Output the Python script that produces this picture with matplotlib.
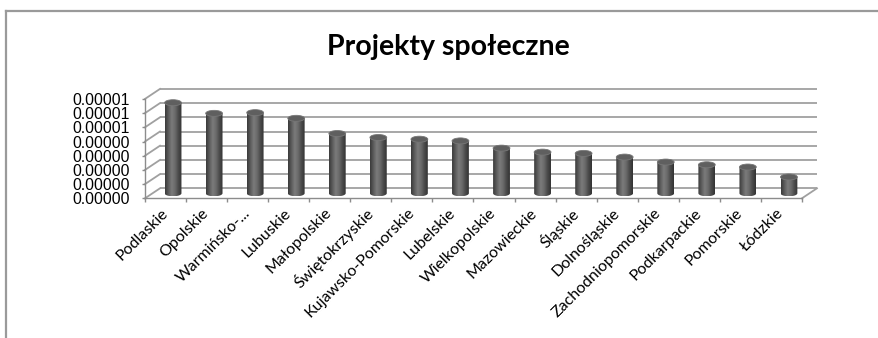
import numpy as np
import matplotlib
matplotlib.use("Agg")
import matplotlib.pyplot as plt
from matplotlib.patches import Ellipse, PathPatch
from matplotlib.path import Path
from matplotlib.colors import LinearSegmentedColormap
from matplotlib.lines import Line2D

# ---- data ----
regions = ["Podlaskie", "Opolskie", "Warmińsko-...", "Lubuskie", "Małopolskie",
           "Świętokrzyskie", "Kujawsko-Pomorskie", "Lubelskie", "Wielkopolskie",
           "Mazowieckie", "Śląskie", "Dolnośląskie", "Zachodniopomorskie",
           "Podkarpackie", "Pomorskie", "Łódzkie"]
values = [6.38e-6, 5.63e-6, 5.68e-6, 5.28e-6, 4.21e-6, 3.93e-6, 3.81e-6, 3.69e-6,
          3.18e-6, 2.90e-6, 2.81e-6, 2.55e-6, 2.20e-6, 2.01e-6, 1.85e-6, 1.15e-6]
ytick_values = [0, 1e-6, 2e-6, 3e-6, 4e-6, 5e-6, 6e-6, 7e-6]
ytick_labels = ["0.00000", "0.00000", "0.00000", "0.00000", "0.00000",
                "0.00001", "0.00001", "0.00001"]
title = "Projekty społeczne"

# ---- layout (pixels) ----
W, H = 879, 338
PX_CAT = 41.06       # width of one category slot
PX_UNIT = 14.2       # pixels per 1e-6
DEPTH_PX = (15, 10)  # pseudo-3D depth offset
ORIGIN = (145, 198.3)

n = len(regions)
ymax = ytick_values[-1]
unit = ytick_values[1]
ddx = DEPTH_PX[0] / PX_CAT
ddy = DEPTH_PX[1] / PX_UNIT * unit

fig = plt.figure(figsize=(W / 100, H / 100), dpi=100)
ax_w = n * PX_CAT + DEPTH_PX[0]
ax_h = (ymax / unit) * PX_UNIT + DEPTH_PX[1]
ax = fig.add_axes([ORIGIN[0] / W, (H - ORIGIN[1]) / H, ax_w / W, ax_h / H])
ax.patch.set_visible(False)

grid_c = "#a0a0a0"
grid_lw = 1.3

# back wall gridlines and side wall diagonals
for yv in ytick_values:
    ax.plot([ddx, n + ddx], [yv + ddy, yv + ddy], color=grid_c, lw=grid_lw,
            zorder=1, clip_on=False, solid_capstyle="butt")
    ax.plot([0, ddx], [yv, yv + ddy], color=grid_c, lw=grid_lw,
            zorder=1, clip_on=False)
# floor right edge
ax.plot([n, n + ddx], [0, ddy], color=grid_c, lw=grid_lw, zorder=1, clip_on=False)

# cylinders
cmap = LinearSegmentedColormap.from_list(
    "cyl", ["#3a3a3a", "#5c5c5c", "#7b7b7b", "#6a6a6a", "#4a4a4a", "#333333"])
grad = np.linspace(0, 1, 64).reshape(1, -1)
bar_w = 0.41
ell_h = 6.0 / PX_UNIT * unit
for i, v in enumerate(values):
    cx = i + 0.5 + ddx / 2
    y0 = ddy / 2
    y1 = v + ddy / 2
    t = np.linspace(np.pi, 2 * np.pi, 40)
    bottom = np.column_stack([cx + bar_w / 2 * np.cos(t), y0 + ell_h / 2 * np.sin(t)])
    verts = np.vstack([[cx - bar_w / 2, y1], bottom, [cx + bar_w / 2, y1], [cx - bar_w / 2, y1]])
    codes = [Path.MOVETO] + [Path.LINETO] * (len(verts) - 2) + [Path.CLOSEPOLY]
    body = PathPatch(Path(verts, codes), facecolor="none", edgecolor="none",
                     transform=ax.transData)
    ax.add_patch(body)
    im = ax.imshow(grad, cmap=cmap, aspect="auto", interpolation="bilinear",
                   extent=(cx - bar_w / 2, cx + bar_w / 2, y0 - ell_h / 2, y1),
                   zorder=3)
    im.set_clip_path(body)
    ax.add_patch(Ellipse((cx, y1), bar_w, ell_h, facecolor="#5f5f5f",
                         edgecolor="#777777", lw=0.6, zorder=4))

ax.set_xlim(0, n + ddx)
ax.set_ylim(0, ymax + ddy)

# axes
for s in ["top", "right"]:
    ax.spines[s].set_visible(False)
ax.spines["left"].set_bounds(0, ymax)
ax.spines["bottom"].set_bounds(0, n)
for s in ["left", "bottom"]:
    ax.spines[s].set_color("#8c8c8c")
    ax.spines[s].set_linewidth(1.0)
    ax.spines[s].set_zorder(5)

ax.set_yticks(ytick_values)
ax.set_yticklabels(ytick_labels, fontfamily="Liberation Sans", fontsize=11.3)
ax.tick_params(axis="y", length=2.5, width=1.0, color="#8c8c8c", pad=8.5)

ax.set_xticks(np.arange(n) + 0.5)
ax.set_xticklabels(regions, rotation=45, ha="right", va="center",
                   rotation_mode="anchor", fontfamily="Lato", fontsize=11.5)
ax.set_xticks(np.arange(n + 1), minor=True)
ax.tick_params(axis="x", which="major", length=0, pad=9)
ax.tick_params(axis="x", which="minor", length=3, width=1.0, color="#8c8c8c")

fig.text(448 / W, 1 - 55 / H, title, ha="center", va="baseline",
         fontfamily="Lato", fontweight="bold", fontsize=20.5)

# outer frame
fig.add_artist(Line2D([6.5 / W, 1.0], [1 - 10.5 / H, 1 - 10.5 / H],
                      transform=fig.transFigure, color="#9a9a9a", lw=1.6))
fig.add_artist(Line2D([6.5 / W, 6.5 / W], [0, 1 - 10.5 / H],
                      transform=fig.transFigure, color="#9a9a9a", lw=1.6))

fig.savefig("out.png", dpi=100)
